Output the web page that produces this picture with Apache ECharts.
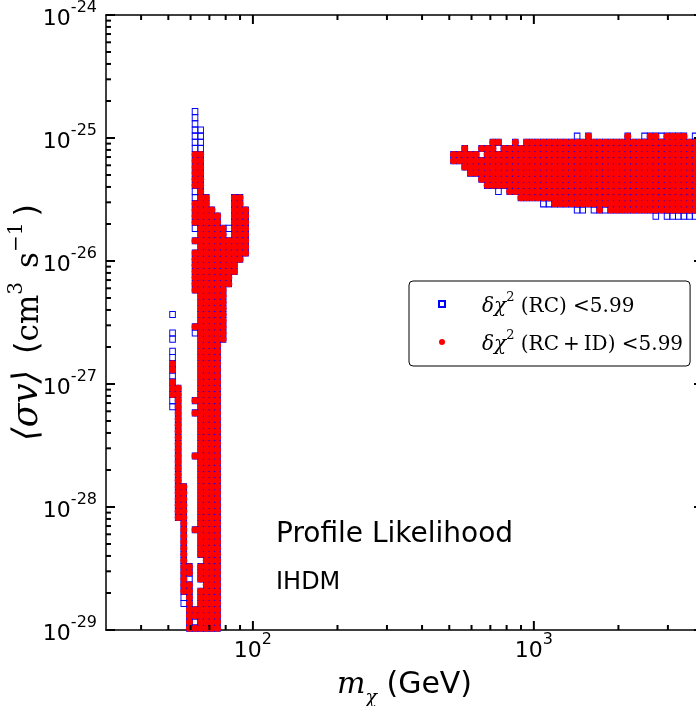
<!DOCTYPE html>
<html>
<head>
<meta charset="utf-8">
<script src="https://cdn.jsdelivr.net/npm/echarts@6/dist/echarts.min.js"></script>
<style>
html,body{margin:0;padding:0;background:#fff;}
#chart{width:696px;height:706px;}
</style>
</head>
<body>
<div id="chart"></div>
<script>
// ---- scan grid ----
const massGrid = [
  51.76, 54.20, 56.75, 59.43, 62.23, 65.16, 68.23, 71.45, 74.82, 78.34, 82.04, 85.90, 89.95, 94.19,
  517.6, 542.0, 567.5, 594.3, 622.3, 651.6, 682.3, 714.5, 748.2, 783.4,
  820.4, 859.0, 899.5, 941.9, 986.3, 1032.8, 1081.4, 1132.4, 1185.8, 1241.7,
  1300.2, 1361.5, 1425.7, 1492.9, 1563.3, 1636.9, 1714.1, 1794.9, 1879.5, 1968.1,
  2060.9, 2158.0, 2259.7, 2366.3, 2477.8, 2594.6, 2716.9, 2845.0, 2979.1, 3119.5,
  3266.6, 3420.6, 3581.8, 3750.6
];
// <sigma v> in cm^3 s^-1
const sigmaGrid = [
  1.035e-29,1.161e-29,1.303e-29,1.462e-29,1.641e-29,1.841e-29,2.065e-29,2.317e-29,2.600e-29,2.917e-29,
  3.273e-29,3.673e-29,4.121e-29,4.624e-29,5.188e-29,5.821e-29,6.531e-29,7.328e-29,8.222e-29,9.226e-29,
  1.035e-28,1.161e-28,1.303e-28,1.462e-28,1.641e-28,1.841e-28,2.065e-28,2.317e-28,2.600e-28,2.917e-28,
  3.273e-28,3.673e-28,4.121e-28,4.624e-28,5.188e-28,5.821e-28,6.531e-28,7.328e-28,8.222e-28,9.226e-28,
  1.035e-27,1.161e-27,1.303e-27,1.462e-27,1.641e-27,1.841e-27,2.065e-27,2.317e-27,2.600e-27,2.917e-27,
  3.273e-27,3.673e-27,4.121e-27,4.624e-27,5.188e-27,5.821e-27,6.531e-27,7.328e-27,8.222e-27,9.226e-27,
  1.035e-26,1.161e-26,1.303e-26,1.462e-26,1.641e-26,1.841e-26,2.065e-26,2.317e-26,2.600e-26,2.917e-26,
  3.273e-26,3.673e-26,4.121e-26,4.624e-26,5.188e-26,5.821e-26,6.531e-26,7.328e-26,8.222e-26,9.226e-26,
  1.035e-25,1.161e-25,1.303e-25,1.462e-25,1.641e-25
];
// cell blocks [massIndexFrom, massIndexTo, sigmaIndexFrom, sigmaIndexTo]
// points passing delta chi^2 (RC+ID) < 5.99 (these also pass RC)
const rcidBlocks = [
  [0,0,42,43],[0,0,38,40],
  [1,1,18,39],
  [2,2,6,23],
  [3,3,0,7],[3,3,9,10],
  [4,4,0,0],[4,4,2,3],[4,4,16,16],[4,4,28,28],[4,4,35,35],[4,4,37,37],[4,4,49,49],
  [4,4,55,61],[4,4,63,63],[4,4,66,69],[4,4,72,77],
  [5,5,0,6],[5,5,8,10],[5,5,12,77],
  [6,6,0,70],[7,7,0,68],[8,8,0,67],[9,9,47,65],[10,10,56,63],
  [11,11,58,70],[12,12,60,70],[13,13,61,68],
  [38,38,80,80],[45,45,80,80],[49,50,80,80],[52,55,80,80],
  [21,22,79,79],[25,25,79,79],[27,57,79,79],
  [16,16,78,78],[19,21,78,78],[23,57,78,78],
  [14,18,77,77],[20,57,77,77],
  [14,57,76,76],[16,57,75,75],[17,57,74,74],[19,57,73,73],[20,57,72,72],
  [24,57,71,71],[26,57,70,70],[32,57,69,69],[40,40,68,68],[42,57,68,68]
];
// points passing only delta chi^2 (RC) < 5.99
const rcOnlyBlocks = [
  [0,0,51,51],[0,0,47,48],[0,0,44,45],[0,0,41,41],[0,0,36,37],
  [2,2,4,5],
  [3,3,8,8],
  [4,4,1,1],[4,4,48,48],[4,4,65,65],[4,4,70,71],[4,4,78,84],
  [5,5,78,81],
  [10,10,65,65],
  [36,36,80,80],[48,48,80,80],[51,51,80,80],[57,57,80,80],
  [22,22,78,78],[19,19,77,77],[22,22,71,71],[30,31,69,69],
  [36,37,68,68],[39,39,68,68],[41,41,68,68],[50,50,67,67],[52,57,67,67]
];
// axis ticks
const xMajorTicks = [100, 1000];
const xMinorTicks = [40, 50, 60, 70, 80, 90, 200, 300, 400, 500, 600, 700, 800, 900, 2000, 3000];
const yMajorTicks = [1e-29, 1e-28, 1e-27, 1e-26, 1e-25, 1e-24];
const yMinorTicks = [
  2e-29,3e-29,4e-29,5e-29,6e-29,7e-29,8e-29,9e-29,
  2e-28,3e-28,4e-28,5e-28,6e-28,7e-28,8e-28,9e-28,
  2e-27,3e-27,4e-27,5e-27,6e-27,7e-27,8e-27,9e-27,
  2e-26,3e-26,4e-26,5e-26,6e-26,7e-26,8e-26,9e-26,
  2e-25,3e-25,4e-25,5e-25,6e-25,7e-25,8e-25,9e-25
];
const xRange = [30, 4000];
const yRange = [1e-29, 1e-24];

// the y axis works in units of 1e-30 cm^3 s^-1 (avoids float underflow in the axis)
const Y_UNIT = 1e-30;
const Y_UNIT_EXP = -30;
const toY = v => v / Y_UNIT;

function expand(blocks) {
  const out = [];
  blocks.forEach(b => {
    for (let c = b[0]; c <= b[1]; c++)
      for (let r = b[2]; r <= b[3]; r++)
        out.push([massGrid[c], toY(sigmaGrid[r])]);
  });
  return out;
}
const rcidPts = expand(rcidBlocks);
const rcPts = expand(rcOnlyBlocks).concat(rcidPts);

const xTickData = xMajorTicks.map(v => [v, toY(yRange[0]), 1]).concat(xMinorTicks.map(v => [v, toY(yRange[0]), 0]));
const yTickData = yMajorTicks.map(v => [xRange[0], toY(v), 1]).concat(yMinorTicks.map(v => [xRange[0], toY(v), 0]));

function isPow10(v) {
  const l = Math.log10(v);
  return Math.abs(l - Math.round(l)) < 1e-6;
}

const chart = echarts.init(document.getElementById('chart'), null, {renderer: 'canvas'});
const axisCommon = {
  axisLine: {show: true, onZero: false, lineStyle: {color: '#000', width: 1.5}},
  axisTick: {show: false},
  splitLine: {show: false},
  minorTick: {show: false}
};
const FONT = '"DejaVu Sans", "Bitstream Vera Sans", sans-serif';
const SERIF = '"DejaVu Serif", serif';
const tickRich = {
  b: {fontFamily: FONT, fontSize: 22, color: '#000', lineHeight: 22, verticalAlign: 'bottom'},
  s: {fontFamily: FONT, fontSize: 16, color: '#000', lineHeight: 20, verticalAlign: 'top'},
  h: {height: 30, lineHeight: 30}
};

chart.setOption({
  animation: false,
  backgroundColor: '#fff',
  grid: {left: 106, top: 15, width: 597, height: 615, containLabel: false, outerBoundsMode: 'none'},
  xAxis: [
    Object.assign({
      type: 'log', logBase: 10, min: xRange[0], max: xRange[1], position: 'bottom',
      axisLabel: {
        margin: 2,
        formatter: v => isPow10(v) ? '{h|}{b|10}{s|' + Math.round(Math.log10(v)) + '}' : '',
        rich: tickRich
      },
      name: '{i|m}{sub|χ}{n| (GeV)}',
      nameLocation: 'middle',
      nameGap: 40,
      nameMoveOverlap: false,
      nameTextStyle: {
        rich: {
          i: {fontFamily: SERIF, fontStyle: 'italic', fontSize: 30, color: '#000', lineHeight: 36, verticalAlign: 'top'},
          sub: {fontFamily: SERIF, fontStyle: 'italic', fontSize: 19, color: '#000', lineHeight: 36, verticalAlign: 'bottom', padding: [0, 0, -2, 0]},
          n: {fontFamily: FONT, fontSize: 30, color: '#000', lineHeight: 36, verticalAlign: 'top'}
        }
      }
    }, axisCommon),
    Object.assign({
      type: 'log', logBase: 10, min: xRange[0], max: xRange[1], position: 'top',
      axisLabel: {show: false}
    }, axisCommon)
  ],
  yAxis: [
    Object.assign({
      type: 'log', logBase: 10, min: toY(yRange[0]), max: toY(yRange[1]), position: 'left',
      axisLabel: {
        margin: 9,
        formatter: v => isPow10(v) ? '{h|}{b|10}{s|' + (Math.round(Math.log10(v)) + Y_UNIT_EXP) + '}' : '',
        rich: tickRich
      },
      name: '{m|⟨σv⟩}{g|}{p|(}{r|cm}{sp|3}{g2|}{r|s}{sp|−1}{g3|}{p|)}',
      nameLocation: 'middle',
      nameRotate: 90,
      nameGap: 61,
      nameMoveOverlap: false,
      nameTextStyle: {
        rich: {
          m: {fontFamily: SERIF, fontStyle: 'italic', fontSize: 35, color: '#000', lineHeight: 38, verticalAlign: 'bottom'},
          g: {width: 16, lineHeight: 38},
          g2: {width: 14, lineHeight: 38},
          g3: {width: 6, lineHeight: 38},
          p: {fontFamily: FONT, fontSize: 32, color: '#000', lineHeight: 38, verticalAlign: 'bottom'},
          r: {fontFamily: SERIF, fontSize: 31, color: '#000', lineHeight: 38, verticalAlign: 'bottom'},
          sp: {fontFamily: SERIF, fontSize: 20, color: '#000', lineHeight: 28, verticalAlign: 'top'}
        }
      }
    }, axisCommon),
    Object.assign({
      type: 'log', logBase: 10, min: toY(yRange[0]), max: toY(yRange[1]), position: 'right',
      axisLabel: {show: false}
    }, axisCommon)
  ],
  legend: {
    orient: 'vertical',
    left: 409, top: 281,
    padding: [10, 7, 11, 29],
    itemWidth: 6, itemHeight: 6, itemGap: 12,
    backgroundColor: '#fff',
    borderColor: '#000', borderWidth: 1, borderRadius: 4,
    selectedMode: false,
    data: ['rc', 'rcid'],
    formatter: name => name === 'rc'
      ? '{g|}{it|δχ}{sp|2}{t| (RC) <5.99}'
      : '{g|}{it|δχ}{sp|2}{t| (RC\u2009+\u2009ID) <5.99}',
    textStyle: {
      rich: {
        g: {width: 32, lineHeight: 26},
        it: {fontFamily: SERIF, fontStyle: 'italic', fontSize: 20, color: '#000', lineHeight: 26, verticalAlign: 'bottom'},
        sp: {fontFamily: SERIF, fontSize: 13, color: '#000', lineHeight: 20, verticalAlign: 'top'},
        t: {fontFamily: SERIF, fontSize: 20, color: '#000', lineHeight: 26, verticalAlign: 'bottom'}
      }
    }
  },
  graphic: [
    {type: 'text', left: 276, top: 521, style: {text: 'Profile Likelihood', font: '28px "DejaVu Sans"', fill: '#000'}},
    {type: 'text', left: 276, top: 571, style: {text: 'IHDM', font: '24px "DejaVu Sans"', fill: '#000'}}
  ],
  series: [
    {
      name: 'rc', type: 'scatter', xAxisIndex: 0, yAxisIndex: 0,
      symbol: 'rect', symbolSize: [5.6, 6.1],
      itemStyle: {color: 'rgba(255,255,255,0)', borderColor: '#0000ff', borderWidth: 1, opacity: 1},
      emphasis: {disabled: true},
      clip: true, large: false,
      data: rcPts, z: 2
    },
    {
      name: 'rcid', type: 'scatter', xAxisIndex: 0, yAxisIndex: 0,
      symbol: 'circle', symbolSize: 7,
      itemStyle: {color: '#ff0000', opacity: 1},
      emphasis: {disabled: true},
      clip: true, large: false,
      data: rcidPts, z: 3
    },
    {
      name: 'xticks', type: 'custom', xAxisIndex: 0, yAxisIndex: 0, clip: false, z: 5,
      silent: true,
      renderItem: (params, api) => {
        const cs = params.coordSys;
        const len = api.value(2) ? 9 : 5;
        const p = api.coord([api.value(0), api.value(1)]);
        const bot = cs.y + cs.height, top = cs.y;
        const st = {stroke: '#000', lineWidth: 2};
        return {type: 'group', children: [
          {type: 'line', shape: {x1: p[0], y1: bot, x2: p[0], y2: bot - len}, style: st},
          {type: 'line', shape: {x1: p[0], y1: top, x2: p[0], y2: top + len}, style: st}
        ]};
      },
      data: xTickData
    },
    {
      name: 'yticks', type: 'custom', xAxisIndex: 0, yAxisIndex: 0, clip: false, z: 5,
      silent: true,
      renderItem: (params, api) => {
        const cs = params.coordSys;
        const len = api.value(2) ? 9 : 5;
        const p = api.coord([api.value(0), api.value(1)]);
        const l = cs.x, r = cs.x + cs.width;
        const st = {stroke: '#000', lineWidth: 2};
        return {type: 'group', children: [
          {type: 'line', shape: {x1: l, y1: p[1], x2: l + len, y2: p[1]}, style: st},
          {type: 'line', shape: {x1: r, y1: p[1], x2: r - len, y2: p[1]}, style: st}
        ]};
      },
      data: yTickData
    }
  ]
});
</script>
</body>
</html>
